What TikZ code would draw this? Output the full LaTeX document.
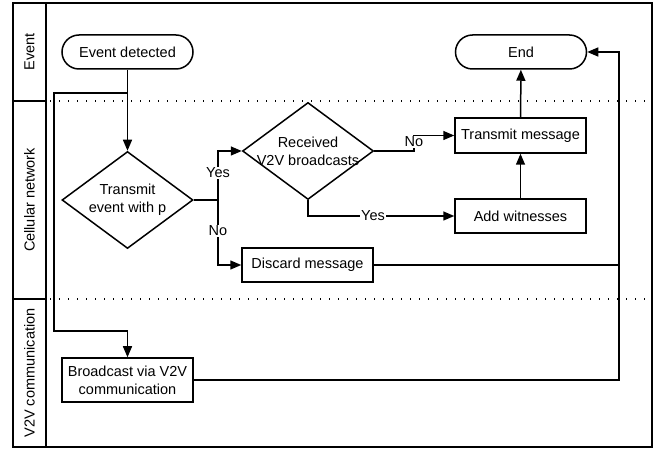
\documentclass[tikz,border=0pt]{standalone}
\usepackage{fontspec}
\setmainfont{Liberation Sans}
\usepackage{tikz}
\usetikzlibrary{arrows.meta,calc,positioning,shapes}
\tikzset{>={Triangle[length=11pt,width=9pt]},
	every picture/.style={line width=1.5pt},
	every node/.style={font=\fontsize{14.5}{18}\selectfont},
	terminal/.style={% start and end of the flow
		draw, rectangle,
		rounded corners=17pt,
		minimum width=131pt,
		minimum height=34pt,
		align=center
	},
	proc/.style={
		draw, rectangle,
		minimum width=131pt,
		minimum height=35pt,
		align=center
	},
	decision/.style={
		draw, diamond,
		inner sep=0pt,
		minimum width=131pt,
		minimum height=97pt
	},
	lane/.style={
		draw, rectangle, rotate=90,
		minimum height=33pt,
		inner sep=0pt
	},
	lbl/.style={fill=white, inner sep=1pt},
	lanesep/.style={line width=1.3pt, dash pattern=on 1.3pt off 7.7pt}
}
\begin{document}
\begin{tikzpicture}[x=1pt,y=-1pt]
		\useasboundingbox (0,0) rectangle (657,449);
		% swimlanes
		\draw (13,3) rectangle (652,447);
		\node [lane, minimum width=98pt] (lev) at (29.5,52) {Event};
		\node [lane, minimum width=198pt] (lcn) at (29.5,200) {Cellular network};
		\node [lane, minimum width=148pt] (lvv) at (29.5,373) {V2V communication};
		\draw [lanesep] (50,101) -- (647,101);
		\draw [lanesep] (50,299) -- (647,299);
		% flow
		\node [terminal] (evt) at (127.5,52) {Event detected};
		\node [terminal] (end) at (521,52) {End};
		\node [decision, label={[align=center]center:Transmit\\event with p}] (tx) at (127.5,200) {};
		\node [decision, label={[align=center]center:Received\\V2V broadcasts}] (rx) at (308,151) {};
		\node [proc] (tm) at (520.5,135.5) {Transmit message};
		\node [proc, minimum height=34pt] (aw) at (520.5,216) {Add witnesses};
		\node [proc, minimum height=34pt] (dm) at (307.5,265) {Discard message};
		\node [proc, minimum height=44pt] (bc) at (127.5,380) {Broadcast via V2V\\communication};
		\coordinate (split) at (127.5,93);
		\coordinate (wl) at (54,331);
		\coordinate (fork) at (218,200);
		\coordinate (jog) at (414,151);
		\coordinate (rr) at (619,52);
		\coordinate (rj) at (619,265);
		\draw [->] (evt) -- (tx);
		\draw [->] (split) -| (wl) -| (bc.north);
		\draw [->] (tx.east) -- (fork) |- (rx.west);
		\draw [->] (fork) |- (dm.west);
		\draw [->] (rx.south) |- (aw.west);
		\draw [->] (rx.east) -- (jog) |- (tm.west);
		\draw [->] (aw) -- (tm);
		\draw [->] (tm) -- (end);
		\draw [->] (dm.east) -| (rr) -- (end.east);
		\draw (bc.east) -| (rj);
		\node [lbl] (yes1) at (218,173) {Yes};
		\node [lbl] (no1) at (218,231) {No};
		\node [lbl] (yes2) at (373,216) {Yes};
		\node [lbl] (no2) at (414,142) {No};
\end{tikzpicture}
\end{document}
